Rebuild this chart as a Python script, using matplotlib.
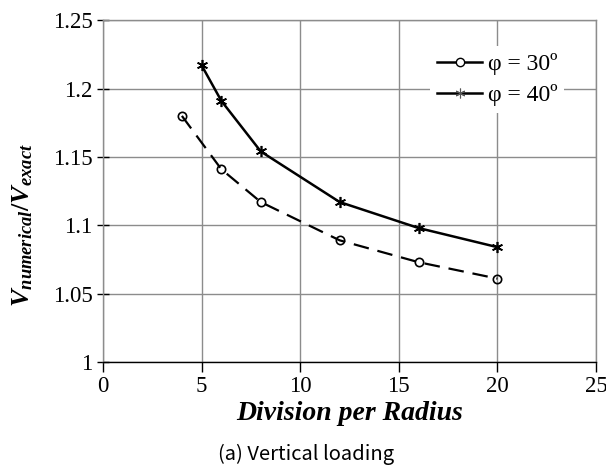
"""Relación V_numerical/V_exact frente a divisiones por radio."""

import matplotlib
matplotlib.use("Agg")
import matplotlib.pyplot as plt
from matplotlib.lines import Line2D

plt.rcParams["font.family"] = ["Liberation Serif", "DejaVu Serif"]
plt.rcParams["mathtext.fontset"] = "custom"
plt.rcParams["mathtext.rm"] = "Liberation Serif"
plt.rcParams["mathtext.it"] = "Liberation Serif:italic"
plt.rcParams["mathtext.bf"] = "Liberation Serif:bold"
plt.rcParams["mathtext.bfit"] = "Liberation Serif:bold:italic"

# datos
div_30 = [4, 6, 8, 12, 16, 20]
ratio_30 = [1.180, 1.141, 1.117, 1.089, 1.073, 1.061]
div_40 = [5, 6, 8, 12, 16, 20]
ratio_40 = [1.217, 1.191, 1.154, 1.117, 1.098, 1.084]
etiquetas = ["φ = 30º", "φ = 40º"]

fig = plt.figure(figsize=(6.06, 4.70), dpi=100)
ax = fig.add_axes([0.170, 0.2298, 0.8135, 0.7272])

ax.plot(div_30, ratio_30, color="black", lw=1.6, dashes=(7, 4),
        marker="o", ms=6, mfc="none", mec="black", mew=1.2)
ax.plot(div_40, ratio_40, color="black", lw=1.8,
        marker=(6, 2, 0), ms=8, mec="black", mew=1.2)

ax.set_xlim(0, 25)
ax.set_ylim(1, 1.25)
ax.set_xticks([0, 5, 10, 15, 20, 25])
ax.set_yticks([1, 1.05, 1.1, 1.15, 1.2, 1.25])
ax.set_yticklabels(["1", "1.05", "1.1", "1.15", "1.2", "1.25"])
ax.grid(True, color="#8c8c8c", lw=1.0)
ax.set_axisbelow(True)

for lado in ("top", "right", "left"):
    ax.spines[lado].set_color("#8c8c8c")
    ax.spines[lado].set_linewidth(1.0)
ax.spines["bottom"].set_color("black")
ax.spines["bottom"].set_linewidth(1.0)

ax.tick_params(axis="y", direction="inout", length=9, width=1, labelsize=16.5, pad=3)
ax.tick_params(axis="x", direction="out", length=7, width=1, labelsize=16.5, pad=3)

ax.set_xlabel("Division per Radius", fontsize=20, fontweight="bold",
              style="italic", labelpad=3)
ax.set_ylabel(r"$\mathbfit{V}_{\mathbfit{numerical}}\mathbf{/}\mathbfit{V}_{\mathbfit{exact}}$",
              fontsize=19, labelpad=0, va="center")
ax.yaxis.set_label_coords(-0.162, 0.40)

manijas = [
    Line2D([0], [0], color="black", lw=1.8, marker="o", ms=6, mfc="white", mec="black", mew=1.0),
    Line2D([0], [0], color="black", lw=1.8, marker=(6, 2, 0), ms=7, mec="#555555", mew=0.8),
]
ley = ax.legend(manijas, etiquetas, loc="upper right", bbox_to_anchor=(0.96, 0.96),
                fontsize=17, frameon=True, handlelength=1.9, handletextpad=0.25,
                borderpad=0.3, labelspacing=0.4)
ley.get_frame().set_edgecolor("none")
ley.get_frame().set_facecolor("white")
ley.get_frame().set_alpha(1)

fig.text(0.505, 0.034, "(a) Vertical loading", ha="center", va="center", fontsize=14.5,
         family=["Noto Sans CJK KR", "DejaVu Sans"])

fig.savefig("out.png", dpi=100)
plt.close(fig)
